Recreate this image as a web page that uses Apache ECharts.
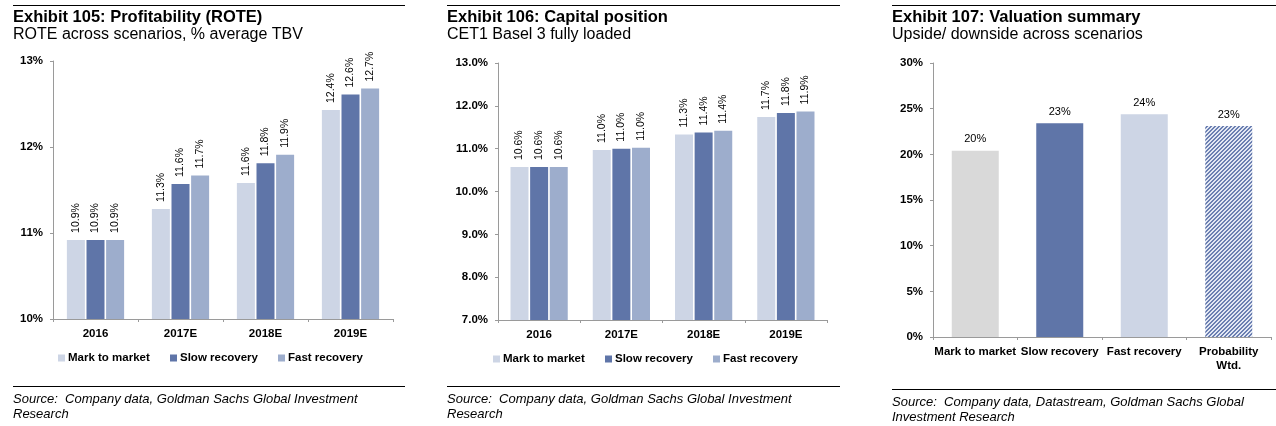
<!DOCTYPE html>
<html>
<head>
<meta charset="utf-8">
<script src="https://cdn.jsdelivr.net/npm/echarts@6/dist/echarts.min.js"></script>
<style>
html,body{margin:0;padding:0;background:#fff;}
#c{width:1276px;height:426px;}
</style>
</head>
<body>
<div id="c"></div>
<script>
// ---- Data ----
const years = ['2016', '2017E', '2018E', '2019E'];
const scenarioNames = ['Mark to market', 'Slow recovery', 'Fast recovery'];
const roteMark = [10.92, 11.28, 11.58, 12.43];
const roteSlow = [10.92, 11.57, 11.81, 12.61];
const roteFast = [10.92, 11.67, 11.91, 12.68];
const cetMark = [10.57, 10.97, 11.33, 11.74];
const cetSlow = [10.57, 11.00, 11.38, 11.83];
const cetFast = [10.57, 11.02, 11.42, 11.87];
const valCategories = ['Mark to market', 'Slow recovery', 'Fast recovery', 'Probability\nWtd.'];
const valUpside = [20.4, 23.4, 24.4, 23.1];

// ---- Styles ----
const FONT = '"Liberation Sans", Arial, Helvetica, sans-serif';
const cLight = '#cdd5e5';
const cDark = '#5f75a8';
const cMid = '#9dadcc';
const cGrey = '#d9d9d9';
const axisGrey = '#9a9a9a';

// hatch pattern
const hatch = document.createElement('canvas');
hatch.width = 4; hatch.height = 4;
(function () {
  const ctx = hatch.getContext('2d');
  const img = ctx.createImageData(4, 4);
  for (let y = 0; y < 4; y++) for (let x = 0; x < 4; x++) {
    const i = (y * 4 + x) * 4;
    const dark = ((x + y) % 4) < 2;
    img.data[i] = dark ? 0x6b : 0xe2;
    img.data[i + 1] = dark ? 0x7f : 0xe7;
    img.data[i + 2] = dark ? 0xb1 : 0xf3;
    img.data[i + 3] = 255;
  }
  ctx.putImageData(img, 0, 0);
})();

const chart = echarts.init(document.getElementById('c'), null, {renderer: 'canvas'});

function yAxisCfg(gridIndex, min, max, interval, fmt) {
  return {
    type: 'value', gridIndex, min, max, interval,
    axisLine: {show: true, lineStyle: {color: axisGrey, width: 1}},
    axisTick: {show: true, length: 3, lineStyle: {color: axisGrey}},
    splitLine: {show: false},
    axisLabel: {formatter: fmt, fontFamily: FONT, fontWeight: 'bold', fontSize: 11.5, color: '#000', margin: 10}
  };
}
function xAxisCfg(gridIndex, data, extra) {
  return Object.assign({
    type: 'category', gridIndex, data,
    axisLine: {show: true, lineStyle: {color: axisGrey, width: 1}},
    axisTick: {show: true, length: 3, lineStyle: {color: axisGrey}},
    axisLabel: {fontFamily: FONT, fontWeight: 'bold', fontSize: 11.5, color: '#000', margin: 8, interval: 0, lineHeight: 14}
  }, extra || {});
}
function groupSeries(name, data, color, axisIdx) {
  return {
    type: 'bar', name, data, xAxisIndex: axisIdx, yAxisIndex: axisIdx,
    barWidth: 18, barGap: '9%',
    itemStyle: {color},
    label: {
      show: true, position: 'top', rotate: 90, align: 'left', verticalAlign: 'middle', distance: 7,
      formatter: p => p.value.toFixed(1) + '%',
      fontFamily: FONT, fontSize: 10.5, color: '#000'
    }
  };
}
function legendItem(name, left, top) {
  return {
    data: [name], left, top, orient: 'horizontal', icon: 'rect', padding: 0,
    itemWidth: 7, itemHeight: 7, selectedMode: false,
    textStyle: {fontFamily: FONT, fontWeight: 'bold', fontSize: 11.5, color: '#000', padding: [0, 0, 0, -2]}
  };
}
function txt(x, y, text, font) {
  return {type: 'text', x, y, z: 100, style: {text, font, fill: '#000', verticalAlign: 'middle', textVerticalAlign: 'middle'}};
}
function rule(x1, x2, y) {
  return {type: 'line', z: 100, shape: {x1, y1: y + 0.5, x2, y2: y + 0.5}, style: {stroke: '#000', lineWidth: 1}};
}

const titleFont = 'bold 16.5px ' + FONT;
const subFont = '16px ' + FONT;
const srcFont = 'italic 13px ' + FONT;

const option = {
  animation: false,
  grid: [
    {left: 53, top: 61, width: 340, height: 258},
    {left: 498, top: 63, width: 329, height: 257},
    {left: 933, top: 63, width: 338, height: 274}
  ],
  xAxis: [
    xAxisCfg(0, years),
    xAxisCfg(1, years),
    xAxisCfg(2, valCategories)
  ],
  yAxis: [
    yAxisCfg(0, 10, 13, 1, v => v + '%'),
    yAxisCfg(1, 7, 13, 1, v => v.toFixed(1) + '%'),
    yAxisCfg(2, 0, 30, 5, v => v + '%')
  ],
  legend: [
    legendItem(scenarioNames[0], 58, 352),
    legendItem(scenarioNames[1], 170, 352),
    legendItem(scenarioNames[2], 278, 352),
    legendItem(scenarioNames[0], 493, 353),
    legendItem(scenarioNames[1], 605, 353),
    legendItem(scenarioNames[2], 713, 353)
  ],
  series: [
    groupSeries(scenarioNames[0], roteMark, cLight, 0),
    groupSeries(scenarioNames[1], roteSlow, cDark, 0),
    groupSeries(scenarioNames[2], roteFast, cMid, 0),
    groupSeries(scenarioNames[0], cetMark, cLight, 1),
    groupSeries(scenarioNames[1], cetSlow, cDark, 1),
    groupSeries(scenarioNames[2], cetFast, cMid, 1),
    {
      type: 'bar', name: 'Upside', xAxisIndex: 2, yAxisIndex: 2, barWidth: 47,
      data: valUpside.map((v, i) => ({
        value: v,
        itemStyle: {color: [cGrey, cDark, cLight, {image: hatch, repeat: 'repeat'}][i]}
      })),
      label: {
        show: true, position: 'top', distance: 6,
        formatter: p => Math.round(p.value) + '%',
        fontFamily: FONT, fontSize: 11, color: '#000'
      }
    }
  ],
  graphic: [
    rule(13, 405, 5), rule(447, 840, 5), rule(892, 1276, 5),
    txt(13, 17, 'Exhibit 105: Profitability (ROTE)', titleFont),
    txt(13, 35, 'ROTE across scenarios, % average TBV', subFont),
    txt(447, 17, 'Exhibit 106: Capital position', titleFont),
    txt(447, 35, 'CET1 Basel 3 fully loaded', subFont),
    txt(892, 17, 'Exhibit 107: Valuation summary', titleFont),
    txt(892, 35, 'Upside/ downside across scenarios', subFont),
    rule(13, 405, 386), rule(447, 840, 386), rule(892, 1276, 389),
    txt(13, 399, 'Source:  Company data, Goldman Sachs Global Investment', srcFont),
    txt(13, 414, 'Research', srcFont),
    txt(447, 399, 'Source:  Company data, Goldman Sachs Global Investment', srcFont),
    txt(447, 414, 'Research', srcFont),
    txt(892, 402, 'Source:  Company data, Datastream, Goldman Sachs Global', srcFont),
    txt(892, 417, 'Investment Research', srcFont)
  ]
};
chart.setOption(option);
</script>
</body>
</html>
